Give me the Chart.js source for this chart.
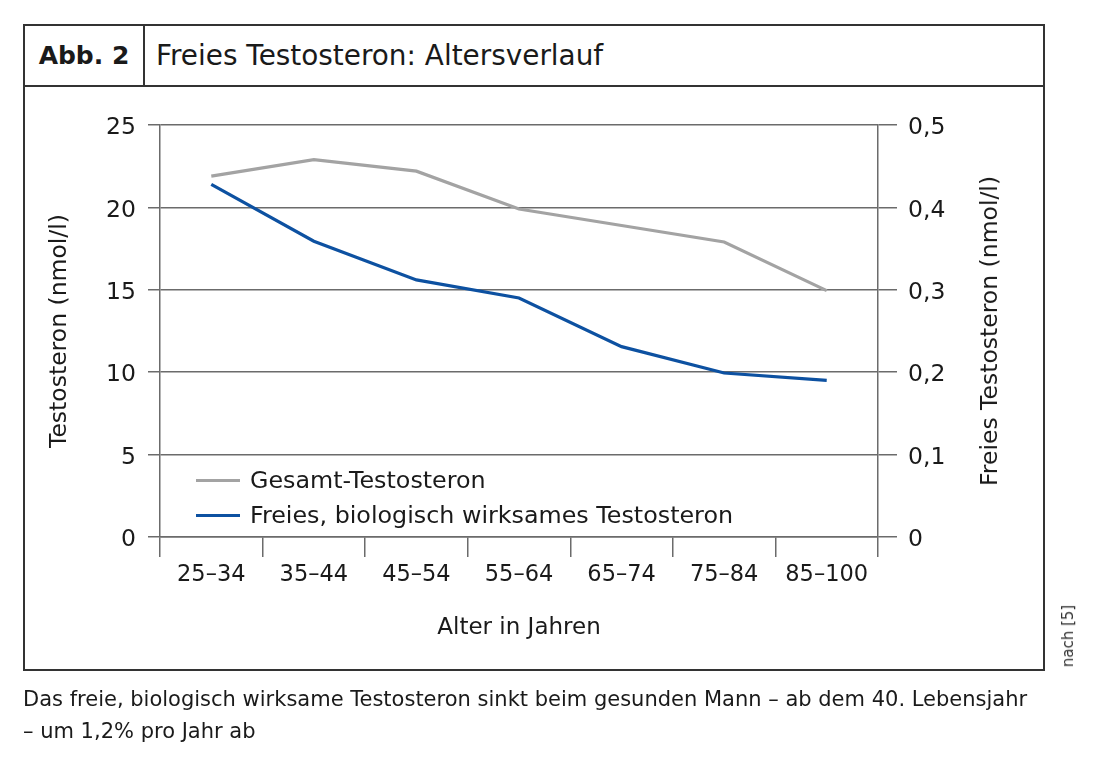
<!DOCTYPE html>
<html>
<head>
<meta charset="utf-8">
<script src="https://cdn.jsdelivr.net/npm/chart.js@4/dist/chart.umd.min.js"></script>
<style>
  html, body { margin: 0; padding: 0; background: #fff; }
  body { width: 1100px; height: 760px; position: relative; overflow: hidden;
         font-family: "DejaVu Sans", sans-serif; color: #1a1a1a; }
  #frame { position: absolute; left: 23px; top: 24px; width: 1018px; height: 643px;
           border: 2px solid #333; box-sizing: content-box; }
  #head { position: absolute; left: 0; top: 0; width: 1018px; height: 59px; border-bottom: 2px solid #333; }
  #abb { position: absolute; left: 0; top: 0; width: 118px; height: 59px; border-right: 2px solid #333;
         font-weight: bold; font-size: 25px; line-height: 59px; text-align: center; }
  #title { position: absolute; left: 131px; top: 0; height: 59px; line-height: 59px; font-size: 27.9px; }
  #chart { position: absolute; left: 0; top: 0; }
  .rot { position: absolute; transform-origin: center center; white-space: nowrap; }
  #ytitle2 { font-size: 23.5px; left: 989px; top: 331px; transform: translate(-50%, -50%) rotate(-90deg); }
  #nach { font-size: 15px; left: 1068px; top: 636px; transform: translate(-50%, -50%) rotate(-90deg); color: #333; }
  #legend { position: absolute; left: 196px; top: 463px; font-size: 23.8px; }
  .li { height: 35px; line-height: 35px; display: flex; align-items: center; }
  .sw { width: 44px; height: 3px; margin-right: 10px; }
  #caption { position: absolute; left: 23px; top: 683px; font-size: 21px; line-height: 32px; color: #1a1a1a; }
</style>
</head>
<body>
<div id="frame">
  <div id="head"><div id="abb">Abb. 2</div><div id="title">Freies Testosteron: Altersverlauf</div></div>
</div>
<canvas id="chart" width="1100" height="760"></canvas>
<div class="rot" id="ytitle2">Freies Testosteron (nmol/l)</div>
<div class="rot" id="nach">nach [5]</div>
<div id="legend"></div>
<div id="caption">Das freie, biologisch wirksame Testosteron sinkt beim gesunden Mann – ab dem 40. Lebensjahr<br>– um 1,2% pro Jahr ab</div>
<script>
const categories = ['25–34', '35–44', '45–54', '55–64', '65–74', '75–84', '85–100'];
const gesamtTestosteron = [21.9, 22.9, 22.2, 19.9, 18.9, 17.9, 14.95];
const freiesTestosteron = [0.428, 0.359, 0.312, 0.29, 0.231, 0.199, 0.19];
const leftTicks = [0, 5, 10, 15, 20, 25];
const rightTicks = [0, 0.1, 0.2, 0.3, 0.4, 0.5];
const seriesNames = ['Gesamt-Testosteron', 'Freies, biologisch wirksames Testosteron'];
const seriesColors = ['#a3a3a3', '#0d51a1'];

const FONT = '"DejaVu Sans", sans-serif';
const AXIS = '#6b6b6b';
const TXT = '#1a1a1a';

const chart = new Chart(document.getElementById('chart'), {
  type: 'line',
  data: {
    labels: categories,
    datasets: [
      { label: seriesNames[0], data: gesamtTestosteron, yAxisID: 'y', borderColor: seriesColors[0],
        borderWidth: 3.2, pointRadius: 0, tension: 0, fill: false },
      { label: seriesNames[1], data: freiesTestosteron, yAxisID: 'y2', borderColor: seriesColors[1],
        borderWidth: 3.2, pointRadius: 0, tension: 0, fill: false }
    ]
  },
  options: {
    responsive: false,
    animation: false,
    devicePixelRatio: 1,
    layout: { padding: { left: 0, right: 0, top: 125, bottom: 0 } },
    plugins: { legend: { display: false }, tooltip: { enabled: false } },
    scales: {
      x: {
        type: 'category',
        offset: true,
        grid: { offset: true, drawOnChartArea: false, drawTicks: true, tickLength: 20, color: AXIS, lineWidth: 1.5 },
        border: { display: true, color: AXIS, width: 1.5 },
        ticks: { color: TXT, font: { family: FONT, size: 22.5 }, padding: 5, maxRotation: 0 },
        title: { display: true, text: 'Alter in Jahren', color: TXT, font: { family: FONT, size: 23 },
                 padding: { top: 0, bottom: 118 } },
        afterFit: s => { s.height = 760 - 537; }
      },
      y: {
        position: 'left',
        min: 0, max: 25,
        afterBuildTicks: s => { s.ticks = leftTicks.map(v => ({ value: v })); },
        grid: { color: AXIS, lineWidth: 1.5, tickLength: 12, drawTicks: true },
        border: { display: true, color: AXIS, width: 1.5 },
        ticks: { color: TXT, font: { family: FONT, size: 23.5 }, padding: 12, labelOffset: 3 },
        title: { display: true, text: 'Testosteron (nmol/l)', color: TXT, font: { family: FONT, size: 23.5 },
                 padding: { top: 46, bottom: 0 } },
        afterFit: s => { s.width = 160; }
      },
      y2: {
        position: 'right',
        min: 0, max: 0.5,
        afterBuildTicks: s => { s.ticks = rightTicks.map(v => ({ value: v })); },
        grid: { drawOnChartArea: false, drawTicks: true, tickLength: 19, color: AXIS, lineWidth: 1.5 },
        border: { display: true, color: AXIS, width: 1.5 },
        ticks: { color: TXT, font: { family: FONT, size: 23.5 }, padding: 11, labelOffset: 3,
                 callback: v => v === 0 ? '0' : v.toFixed(1).replace('.', ',') },
        title: { display: false },
        afterFit: s => { s.width = 1100 - 878; }
      }
    }
  }
});

const legend = document.getElementById('legend');
seriesNames.forEach((n, i) => {
  const row = document.createElement('div');
  row.className = 'li';
  const sw = document.createElement('span');
  sw.className = 'sw';
  sw.style.background = seriesColors[i];
  const t = document.createElement('span');
  t.textContent = n;
  row.appendChild(sw); row.appendChild(t);
  legend.appendChild(row);
});
</script>
</body>
</html>
